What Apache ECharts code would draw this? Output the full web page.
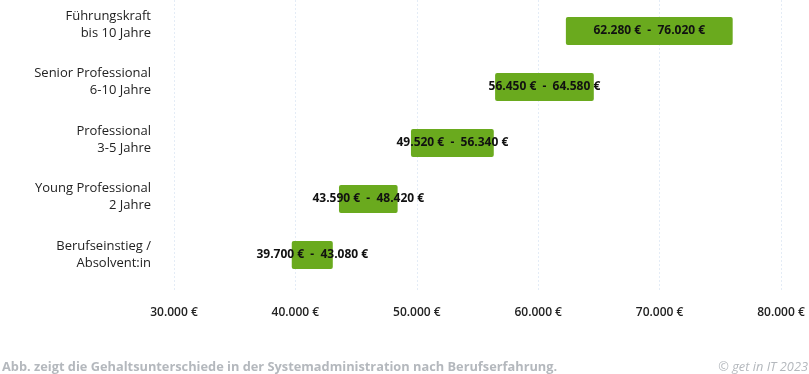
<!DOCTYPE html>
<html><head><meta charset="utf-8">
<script src="https://cdn.jsdelivr.net/npm/echarts@6/dist/echarts.min.js"></script>
<style>html,body{margin:0;padding:0;background:#fff}#c{width:809px;height:374px}</style>
</head><body><div id="c"></div>
<script>
const categories = ["Berufseinstieg /\nAbsolvent:in", "Young Professional\n2 Jahre", "Professional\n3-5 Jahre", "Senior Professional\n6-10 Jahre", "Führungskraft\nbis 10 Jahre"];
const lowValues = [39700, 43590, 49520, 56450, 62280];
const highValues = [43080, 48420, 56340, 64580, 76020];
const xTicks = [30000, 40000, 50000, 60000, 70000, 80000];
const footerText = "Abb. zeigt die Gehaltsunterschiede in der Systemadministration nach Berufserfahrung.";
const copyrightText = "© get in IT 2023";

function fmt(v){ return String(v).replace(/\B(?=(\d{3})+(?!\d))/g, ".") + " €"; }

const chart = echarts.init(document.getElementById('c'), null, {renderer:'canvas'});
chart.setOption({
  animation:false,
  grid:[
    {left:174, right:28, top:3, bottom:91},
    {left:174, right:28, top:0, bottom:83},
    {left:174, right:28, top:4, bottom:82}
  ],
  xAxis:[
    {type:'value', gridIndex:0, min:xTicks[0], max:xTicks[xTicks.length-1], interval:10000,
      axisLine:{show:false}, axisTick:{show:false}, splitLine:{show:false},
      axisLabel:{formatter:v=>fmt(v), fontFamily:'Open Sans', fontWeight:600, fontSize:12, color:'#222', margin:24}
    },
    {type:'value', gridIndex:1, min:xTicks[0], max:xTicks[xTicks.length-1], interval:10000,
      axisLine:{show:false}, axisTick:{show:false}, axisLabel:{show:false},
      splitLine:{show:true, lineStyle:{color:'#e4ecf6', type:[2,2], width:1}}
    },
    {type:'value', gridIndex:2, min:xTicks[0], max:xTicks[xTicks.length-1], show:false}
  ],
  yAxis:[
    {type:'category', gridIndex:0, data:categories, show:false},
    {type:'category', gridIndex:1, data:categories, show:false},
    {type:'category', gridIndex:2, data:categories,
      axisLine:{show:false}, axisTick:{show:false}, splitLine:{show:false},
      axisLabel:{formatter:v=>v+"\n ", fontFamily:'Open Sans', fontSize:13, color:'#222', lineHeight:17, margin:23, align:'right'}
    }
  ],
  series:[
    {type:'bar', stack:'r', data:lowValues, itemStyle:{color:'transparent'}, barWidth:28, silent:true},
    {type:'bar', stack:'r', barWidth:28,
      data:highValues.map((h,i)=>h-lowValues[i]),
      itemStyle:{color:'#6aaa1e', borderRadius:2},
      label:{show:true, position:'inside', formatter:p=>fmt(lowValues[p.dataIndex])+"  -  "+fmt(highValues[p.dataIndex]),
        fontFamily:'Open Sans', fontWeight:'bold', fontSize:12, color:'#111'}
    }
  ],
  graphic:[
    {type:'text', left:2, top:361, style:{text:footerText, fontFamily:'Open Sans', fontWeight:'bold', fontSize:12.8, fill:'#b4b8bd'}},
    {type:'text', right:1, top:361, style:{text:copyrightText, fontFamily:'Open Sans', fontStyle:'italic', fontSize:12.8, fill:'#b4b8bd'}}
  ]
});
</script></body></html>
